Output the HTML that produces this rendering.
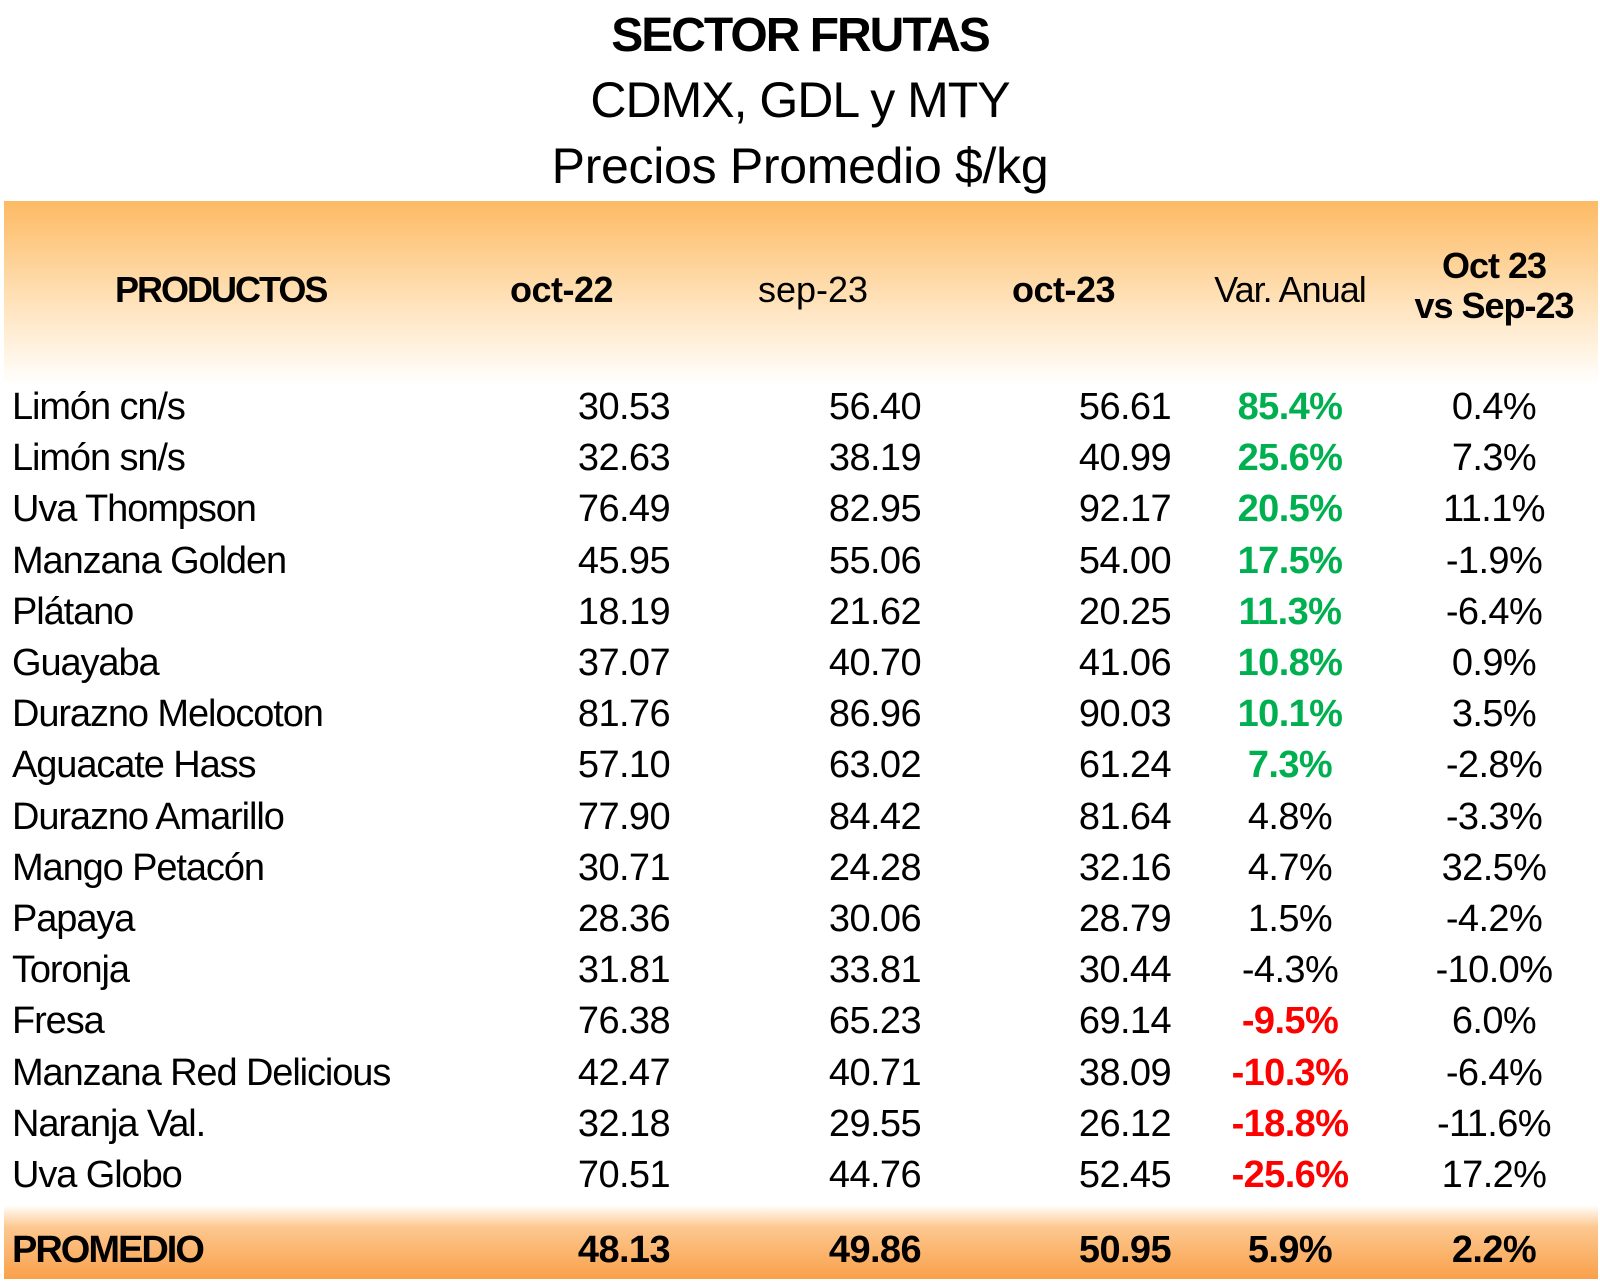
<!DOCTYPE html>
<html><head><meta charset="utf-8"><style>
body{margin:0;width:1600px;height:1281px;background:#fff;font-family:"Liberation Sans",Arial,sans-serif;position:relative;overflow:hidden;color:#000}
.t{position:absolute;left:0;width:1600px;text-align:center;letter-spacing:-2px;line-height:1}
.hb{position:absolute;left:4px;width:1594px;top:201px;height:184px;background:linear-gradient(#FDBA63,#FFE2BA 55%,#fff)}
.fb{position:absolute;left:4px;width:1594px;top:1205px;height:74px;background:linear-gradient(#fff,#FDC890 30%,#F9A04A)}
.r{position:absolute;left:0;width:1600px;height:50px;font-size:38px;line-height:50px;letter-spacing:-0.6px}
.r span{position:absolute;white-space:nowrap}
.n{left:12px;letter-spacing:-1.1px}
.a{right:930px;text-align:right}
.b{right:679px;text-align:right}
.c{right:429px;text-align:right}
.d{left:1190px;width:200px;text-align:center}
.e{left:1394px;width:200px;text-align:center}
.g{color:#00B050;font-weight:bold}
.rd{color:#FF0000;font-weight:bold}
.h{font-size:36px;position:absolute;line-height:1}
</style></head><body>
<div class="t" style="top:12px;font-size:48px;font-weight:bold">SECTOR FRUTAS</div>
<div class="t" style="top:75px;font-size:50px;letter-spacing:-1px">CDMX, GDL y MTY</div>
<div class="t" style="top:141px;font-size:50px;letter-spacing:-0.3px">Precios Promedio $/kg</div>
<div class="hb"></div>
<div class="fb"></div>
<div class="h" style="left:115px;top:272px;font-weight:bold;letter-spacing:-2px">PRODUCTOS</div>
<div class="h" style="left:510px;top:272px;font-weight:bold;letter-spacing:-0.5px">oct-22</div>
<div class="h" style="left:758px;top:272px">sep-23</div>
<div class="h" style="left:1012px;top:272px;font-weight:bold;letter-spacing:-0.5px">oct-23</div>
<div class="h" style="left:1190px;width:200px;text-align:center;top:272px;letter-spacing:-1px">Var. Anual</div>
<div class="h" style="left:1394px;width:200px;text-align:center;top:246px;font-weight:bold;line-height:40px;letter-spacing:-1px">Oct 23<br>vs Sep-23</div>

<div class="r" style="top:382px"><span class="n">Limón cn/s</span><span class="a">30.53</span><span class="b">56.40</span><span class="c">56.61</span><span class="d g">85.4%</span><span class="e">0.4%</span></div>
<div class="r" style="top:433px"><span class="n">Limón sn/s</span><span class="a">32.63</span><span class="b">38.19</span><span class="c">40.99</span><span class="d g">25.6%</span><span class="e">7.3%</span></div>
<div class="r" style="top:484px"><span class="n">Uva Thompson</span><span class="a">76.49</span><span class="b">82.95</span><span class="c">92.17</span><span class="d g">20.5%</span><span class="e">11.1%</span></div>
<div class="r" style="top:536px"><span class="n">Manzana Golden</span><span class="a">45.95</span><span class="b">55.06</span><span class="c">54.00</span><span class="d g">17.5%</span><span class="e">-1.9%</span></div>
<div class="r" style="top:587px"><span class="n">Plátano</span><span class="a">18.19</span><span class="b">21.62</span><span class="c">20.25</span><span class="d g">11.3%</span><span class="e">-6.4%</span></div>
<div class="r" style="top:638px"><span class="n">Guayaba</span><span class="a">37.07</span><span class="b">40.70</span><span class="c">41.06</span><span class="d g">10.8%</span><span class="e">0.9%</span></div>
<div class="r" style="top:689px"><span class="n">Durazno Melocoton</span><span class="a">81.76</span><span class="b">86.96</span><span class="c">90.03</span><span class="d g">10.1%</span><span class="e">3.5%</span></div>
<div class="r" style="top:740px"><span class="n">Aguacate Hass</span><span class="a">57.10</span><span class="b">63.02</span><span class="c">61.24</span><span class="d g">7.3%</span><span class="e">-2.8%</span></div>
<div class="r" style="top:792px"><span class="n">Durazno Amarillo</span><span class="a">77.90</span><span class="b">84.42</span><span class="c">81.64</span><span class="d">4.8%</span><span class="e">-3.3%</span></div>
<div class="r" style="top:843px"><span class="n">Mango Petacón</span><span class="a">30.71</span><span class="b">24.28</span><span class="c">32.16</span><span class="d">4.7%</span><span class="e">32.5%</span></div>
<div class="r" style="top:894px"><span class="n">Papaya</span><span class="a">28.36</span><span class="b">30.06</span><span class="c">28.79</span><span class="d">1.5%</span><span class="e">-4.2%</span></div>
<div class="r" style="top:945px"><span class="n">Toronja</span><span class="a">31.81</span><span class="b">33.81</span><span class="c">30.44</span><span class="d">-4.3%</span><span class="e">-10.0%</span></div>
<div class="r" style="top:996px"><span class="n">Fresa</span><span class="a">76.38</span><span class="b">65.23</span><span class="c">69.14</span><span class="d rd">-9.5%</span><span class="e">6.0%</span></div>
<div class="r" style="top:1048px"><span class="n">Manzana Red Delicious</span><span class="a">42.47</span><span class="b">40.71</span><span class="c">38.09</span><span class="d rd">-10.3%</span><span class="e">-6.4%</span></div>
<div class="r" style="top:1099px"><span class="n">Naranja Val.</span><span class="a">32.18</span><span class="b">29.55</span><span class="c">26.12</span><span class="d rd">-18.8%</span><span class="e">-11.6%</span></div>
<div class="r" style="top:1150px"><span class="n">Uva Globo</span><span class="a">70.51</span><span class="b">44.76</span><span class="c">52.45</span><span class="d rd">-25.6%</span><span class="e">17.2%</span></div>
<div class="r" style="top:1225px;font-weight:bold"><span class="n" style="letter-spacing:-2px">PROMEDIO</span><span class="a">48.13</span><span class="b">49.86</span><span class="c">50.95</span><span class="d">5.9%</span><span class="e">2.2%</span></div>
</body></html>
